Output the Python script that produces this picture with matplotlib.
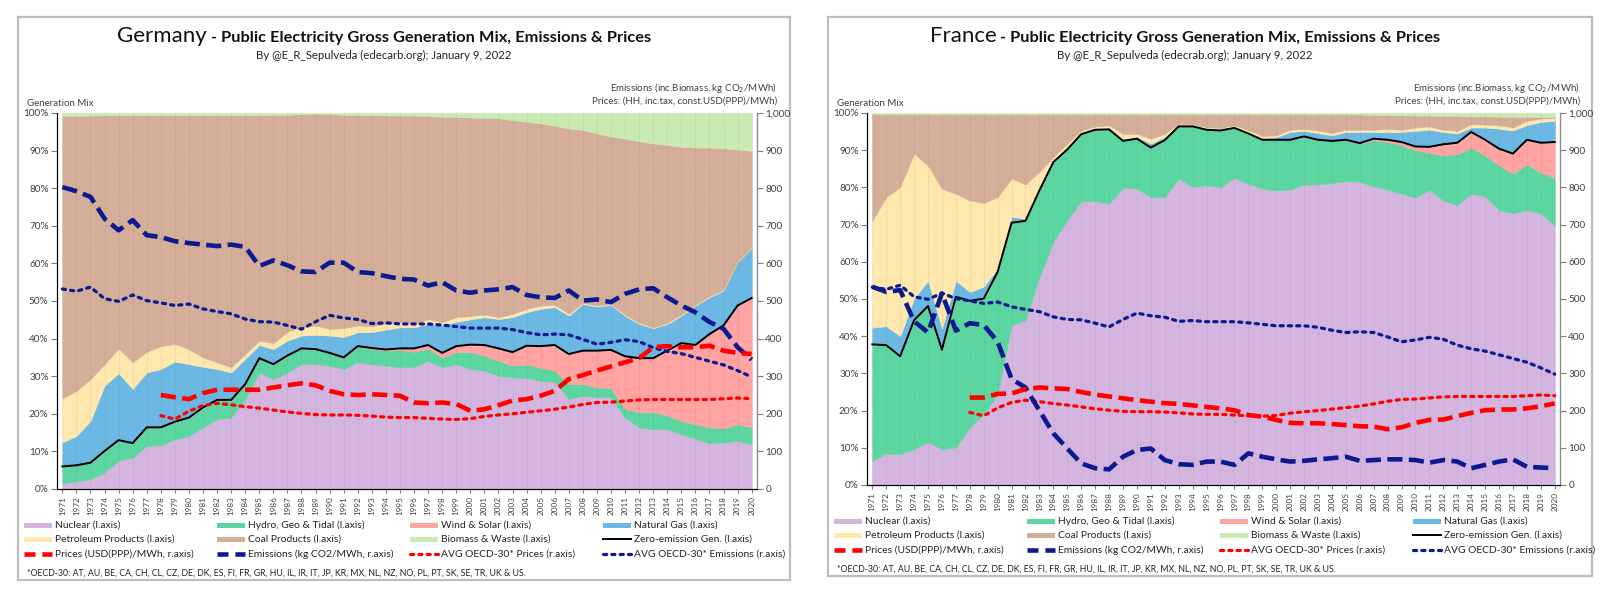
import numpy as np
import matplotlib.pyplot as plt
from matplotlib.patches import Rectangle
from matplotlib.lines import Line2D

plt.rcParams['font.family'] = ['Lato', 'DejaVu Sans']

W, H = 1600, 605

years = list(range(1971, 2021))
price_years = list(range(1978, 2021))

# ---- Germany: generation mix, % of gross generation
de_nuclear = [1.5, 2.1, 2.6, 4.4, 7.5, 8.4, 11.5, 11.6, 13.2, 14.1, 16.4, 18.6, 19.0, 23.9, 31.0, 29.2, 31.0, 33.2, 33.2, 32.8,
              31.9, 33.7, 33.2, 32.8, 32.4, 32.4, 34.1, 32.4, 33.2, 31.9, 31.5, 30.1, 29.7, 29.5, 28.8, 28.5, 23.9, 24.8, 24.4, 24.4,
              19.0, 16.4, 15.9, 15.9, 14.6, 13.4, 12.2, 12.4, 12.8, 11.9]
de_hydro = [4.5, 4.2, 4.4, 5.7, 5.5, 3.8, 4.9, 4.8, 4.7, 4.9, 5.3, 5.1, 4.7, 4.0, 3.8, 4.0, 4.5, 4.2, 4.0, 3.4,
            3.0, 4.2, 4.1, 4.0, 4.6, 4.1, 3.2, 2.6, 3.2, 4.5, 4.0, 4.0, 3.1, 3.6, 3.4, 3.0, 4.0, 3.1, 2.6, 2.4,
            2.2, 4.0, 4.5, 3.7, 3.5, 3.8, 4.2, 3.7, 4.4, 4.5]
de_wind_solar = [0.0] * 19 + [0.0, 0.1, 0.1, 0.2, 0.3, 0.4,
                              0.9, 1.0, 1.2, 1.6, 2.0, 2.8, 3.3, 3.6, 5.0, 5.8, 6.8, 8.0, 8.9, 9.8, 10.2,
                              14.1, 14.4, 14.4, 17.2, 20.7, 21.1, 24.8, 27.4, 31.6, 34.4]
de_gas = [6.4, 7.8, 11.1, 17.4, 17.8, 14.4, 14.6, 15.5, 16.0, 14.2, 10.8, 8.2, 7.3, 6.7, 3.5, 4.0, 4.0, 3.4, 3.8, 4.6,
          5.4, 3.7, 4.2, 5.3, 5.6, 5.6, 5.6, 7.3, 6.5, 6.7, 7.4, 7.8, 9.3, 8.9, 9.9, 10.1, 10.2, 12.4, 11.7, 12.0,
          10.8, 9.1, 8.0, 7.1, 7.3, 10.5, 9.8, 9.3, 11.6, 13.3]
de_oil = [11.7, 12.0, 11.1, 5.7, 6.6, 7.1, 5.5, 6.1, 4.7, 4.0, 2.5, 1.8, 1.4, 1.3, 1.2, 1.6, 2.4, 2.2, 2.5, 1.8,
          2.4, 1.8, 1.6, 1.5, 1.4, 0.9, 1.3, 0.9, 1.2, 0.9, 0.7, 0.5, 0.9, 0.9, 0.9, 0.6, 0.5, 0.3, 0.3, 0.2,
          0.3, 0.3, 0.2, 0.3, 0.3, 0.2, 0.3, 0.2, 0.1, 0.1]
de_coal = [75.2, 73.1, 70.1, 66.2, 62.0, 65.7, 62.9, 61.4, 60.8, 62.2, 64.4, 65.7, 67.0, 63.5, 59.9, 60.7, 57.6, 56.7, 56.3, 57.2,
           56.7, 55.9, 56.1, 55.5, 54.9, 55.4, 54.0, 54.6, 53.3, 52.8, 52.3, 52.9, 51.5, 49.8, 48.4, 47.6, 49.3, 46.0, 45.8, 44.5,
           46.8, 48.3, 48.9, 47.3, 44.6, 41.8, 39.5, 37.6, 29.8, 25.7]
de_biomass = [0.7, 0.8, 0.7, 0.6, 0.6, 0.6, 0.6, 0.6, 0.6, 0.6, 0.6, 0.6, 0.6, 0.6, 0.6, 0.5, 0.5, 0.3, 0.2, 0.2,
              0.5, 0.6, 0.6, 0.6, 0.7, 0.7, 0.8, 1.0, 1.0, 1.2, 1.3, 1.4, 1.9, 2.3, 2.8, 3.4, 4.1, 4.5, 5.4, 6.3,
              6.8, 7.5, 8.1, 8.5, 9.0, 9.2, 9.2, 9.4, 9.7, 10.1]
de_zero = [6.0, 6.3, 7.0, 10.1, 13.0, 12.2, 16.4, 16.4, 17.9, 19.0, 21.7, 23.7, 23.7, 27.9, 34.8, 33.2, 35.5, 37.4, 37.2, 36.2,
           35.0, 38.0, 37.5, 37.1, 37.4, 37.4, 38.3, 36.2, 38.0, 38.4, 38.3, 37.4, 36.4, 38.1, 38.0, 38.3, 35.9, 36.8, 36.8, 37.0,
           35.3, 34.8, 34.8, 36.8, 38.8, 38.3, 41.2, 43.5, 48.8, 50.8]
de_emissions = [803, 792, 777, 719, 688, 715, 675, 670, 659, 654, 650, 646, 650, 644, 593, 608, 595, 579, 577, 602,
                602, 577, 574, 566, 559, 557, 541, 550, 528, 522, 528, 531, 537, 516, 510, 508, 528, 501, 504, 497,
                519, 531, 534, 510, 488, 470, 444, 426, 377, 344]
de_prices = [250, 244, 239, 255, 264, 264, 264, 264, 270, 276, 281, 276, 261, 252, 250, 252, 250, 248, 230, 228,
             230, 226, 208, 212, 223, 235, 239, 248, 261, 292, 303, 315, 326, 337, 348, 377, 380, 377, 377, 381,
             368, 362, 359]

# ---- France
fr_nuclear = [6.5, 8.5, 8.3, 9.6, 11.6, 9.6, 10.1, 15.5, 19.1, 24.4, 43.0, 44.3, 56.0, 65.4, 71.2, 76.4, 76.4, 75.6, 79.9, 79.7,
              77.4, 77.4, 82.4, 80.1, 80.6, 80.0, 82.6, 81.0, 79.7, 79.2, 79.4, 80.8, 80.8, 81.2, 81.7, 81.5, 80.3, 79.4, 78.3, 77.3,
              79.4, 76.5, 75.2, 78.3, 77.6, 73.9, 73.1, 73.9, 73.0, 69.8]
fr_hydro = [31.3, 29.1, 26.3, 34.7, 36.5, 26.8, 40.5, 34.0, 31.0, 32.9, 27.5, 26.7, 23.2, 21.4, 19.0, 17.9, 19.1, 20.0, 12.6, 13.4,
            13.3, 15.3, 14.0, 16.3, 14.9, 15.3, 13.4, 13.5, 13.1, 13.6, 13.4, 12.9, 12.0, 11.3, 11.0, 10.2, 12.4, 12.8, 13.1, 12.7,
            9.9, 12.1, 13.7, 12.4, 11.0, 12.0, 10.6, 12.3, 11.0, 12.8]
fr_wind_solar = [0.0] * 34 + [0.1, 0.2, 0.4, 0.6, 0.8, 1.0, 1.6, 3.0, 3.1, 4.2, 4.2, 4.5, 5.4, 6.6, 8.0, 9.6]
fr_gas = [4.5, 5.1, 5.4, 5.8, 6.8, 5.7, 4.3, 2.4, 3.2, 0.9, 1.6, 0.6, 0.5, 0.3, 0.3, 0.3, 0.3, 0.4, 0.6, 0.5,
          1.1, 0.9, 0.3, 0.3, 0.3, 0.2, 0.2, 0.3, 0.5, 0.7, 2.1, 1.5, 1.8, 1.5, 2.1, 3.0, 1.8, 2.1, 2.7, 4.2,
          4.6, 3.3, 2.5, 1.2, 3.3, 5.4, 6.2, 3.9, 5.6, 5.7]
fr_oil = [28.7, 34.7, 40.1, 39.0, 31.0, 37.6, 23.4, 24.6, 22.5, 19.2, 10.3, 9.2, 4.5, 1.1, 1.3, 0.7, 0.6, 0.7, 1.3, 0.8,
          1.3, 0.8, 0.4, 0.2, 0.4, 0.5, 0.5, 0.6, 0.5, 0.5, 0.6, 0.6, 0.7, 0.6, 0.6, 0.6, 0.6, 0.9, 0.6, 0.9,
          0.9, 0.6, 0.7, 0.9, 0.8, 0.9, 0.8, 1.2, 0.9, 0.8]
fr_coal = [28.7, 22.3, 19.6, 10.6, 13.8, 20.0, 21.4, 23.2, 23.9, 22.3, 17.3, 18.9, 15.5, 11.5, 7.9, 4.4, 3.3, 3.0, 5.3, 5.3,
           6.6, 5.3, 2.6, 2.8, 3.5, 3.7, 3.0, 4.3, 5.9, 5.7, 4.2, 3.9, 4.4, 5.1, 4.2, 4.1, 4.0, 3.6, 3.9, 3.2,
           2.9, 3.7, 4.0, 2.1, 2.2, 2.3, 2.9, 1.1, 0.4, 0.2]
fr_biomass = [0.3] * 35 + [0.4, 0.5, 0.6, 0.6, 0.7, 0.7, 0.8, 0.8, 0.9, 0.9, 1.0, 1.0, 1.0, 1.1, 1.1]
fr_zero = [37.8, 37.6, 34.6, 44.3, 48.1, 36.4, 50.6, 49.5, 50.1, 57.3, 70.5, 71.0, 79.2, 86.8, 90.2, 94.3, 95.5, 95.6, 92.5, 93.1,
           90.7, 92.7, 96.4, 96.4, 95.5, 95.3, 96.0, 94.5, 92.8, 92.8, 92.8, 93.7, 92.8, 92.5, 92.8, 91.9, 93.1, 92.8, 92.2, 91.0,
           90.9, 91.6, 92.0, 94.9, 92.8, 90.4, 89.1, 92.8, 92.0, 92.2]
fr_emissions = [533, 519, 524, 440, 410, 515, 415, 435, 430, 385, 285, 262, 200, 139, 98, 58, 45, 42, 76, 94,
                98, 67, 56, 54, 63, 63, 54, 85, 76, 69, 63, 65, 69, 72, 76, 65, 67, 69, 69, 67,
                60, 67, 63, 45, 54, 63, 69, 49, 47, 45]
fr_prices = [235, 235, 245, 246, 258, 262, 260, 258, 250, 243, 238, 233, 228, 224, 220, 218, 214, 210, 206, 201,
             188, 184, 175, 167, 166, 166, 164, 161, 158, 157, 150, 155, 167, 175, 176, 185, 194, 201, 203, 203,
             206, 212, 219]

# ---- OECD-30 averages (same on both charts)
oecd_emissions = [532, 526, 537, 506, 499, 516, 501, 495, 488, 492, 479, 472, 466, 452, 445, 444, 435, 425, 445, 462,
                  455, 451, 440, 442, 439, 439, 439, 436, 432, 428, 428, 428, 424, 416, 410, 412, 410, 398, 385, 390,
                  397, 392, 376, 366, 360, 350, 340, 330, 315, 298]
oecd_prices = [195, 186, 207, 222, 228, 224, 219, 215, 210, 205, 201, 198, 197, 197, 196, 194, 191, 190, 190, 188,
               186, 185, 187, 193, 197, 200, 204, 208, 212, 218, 225, 230, 231, 234, 237, 238, 238, 238, 238, 238,
               240, 242, 240]

mix_labels = ["Nuclear (l.axis)", "Hydro, Geo & Tidal (l.axis)", "Wind & Solar (l.axis)", "Natural Gas (l.axis)",
              "Petroleum Products (l.axis)", "Coal Products (l.axis)", "Biomass & Waste (l.axis)"]
mix_colors = ["#d3b5e0", "#5cd6a0", "#ffa3a3", "#6cb8e4", "#ffe8ad", "#d4ae98", "#c9eab3"]

RED = "#ff0000"
NAVY = "#0b1a8f"
DASH = dict(lw=3.3, linestyle=(0, (3.3, 1.4)), solid_capstyle='butt')
DOT = dict(lw=2.3, linestyle=(0, (1, 1.6)), dash_capstyle='round')
LINES = [
    ("Zero-emission Gen. (l.axis)", dict(color="black", lw=1.4)),
    ("Prices (USD(PPP)/MWh, r.axis)", dict(color=RED, **DASH)),
    ("Emissions (kg CO2/MWh, r.axis)", dict(color=NAVY, **DASH)),
    ("AVG OECD-30* Prices (r.axis)", dict(color=RED, **DOT)),
    ("AVG OECD-30* Emissions (r.axis)", dict(color=NAVY, **DOT)),
]
# shorter dashes so that two fit in a legend key
LEGEND_DASH = (0, (2.4, 1.5))

fig = plt.figure(figsize=(W / 100, H / 100), dpi=100)
renderer = fig.canvas.get_renderer()


def fx(px):
    return px / W


def fy(py):
    return 1 - py / H


def title_pair(cx, base, big, rest):
    t1 = fig.text(0, fy(base), big, fontsize=16, ha='left', va='baseline', color='#111111')
    t2 = fig.text(0, fy(base), rest, fontsize=11.8, fontweight='bold', ha='left', va='baseline', color='#111111')
    w1 = t1.get_window_extent(renderer).width
    w2 = t2.get_window_extent(renderer).width
    x0 = cx - (w1 + w2) / 2
    t1.set_x(fx(x0))
    t2.set_x(fx(x0 + w1))


def panel(country, note, frame, box, title_cx, mix, zero, emis, prices):
    fl, ft, fr, fb = frame
    fig.add_artist(Rectangle((fx(fl), fy(fb)), fx(fr - fl), (fb - ft) / H, transform=fig.transFigure,
                             facecolor='white', edgecolor='#bdbdbd', lw=1.6, zorder=0))
    left, right, top, bottom = box
    ax = fig.add_axes([fx(left), fy(bottom), fx(right - left), (bottom - top) / H])
    polys = ax.stackplot(years, *mix, colors=mix_colors)
    for p, c in zip(polys, mix_colors):
        p.set_edgecolor(c)
        p.set_linewidth(0.4)
    ax.plot(years, zero, zorder=4, **LINES[0][1])
    ax.set_xlim(years[0] - 0.38, years[-1] + 0.38)
    ax.set_ylim(0, 100)
    ax.set_yticks(range(0, 101, 10))
    ax.set_yticklabels([f"{v}%" for v in range(0, 101, 10)])
    ax.set_xticks(years)
    ax.set_xticklabels([str(y) for y in years], rotation=90, fontsize=5.9)
    ax.set_axisbelow(False)
    ax.grid(axis='x', color='#6f6f6f', alpha=0.25, lw=0.6, linestyle=(0, (1.5, 1.5)))
    ax.tick_params(axis='y', labelsize=7.2, length=4, color='#7f7f7f', labelcolor='#404040', pad=2)
    ax.tick_params(axis='x', length=3, color='#7f7f7f', labelcolor='#404040', pad=2)
    ax.spines['top'].set_visible(False)
    for s in ('left', 'right', 'bottom'):
        ax.spines[s].set_color('#8a8a8a')
        ax.spines[s].set_linewidth(0.9)

    ax2 = ax.twinx()
    ax2.set_ylim(0, 1000)
    ax2.set_yticks(range(0, 1001, 100))
    ax2.set_yticklabels([f"{v:,}" for v in range(0, 1001, 100)])
    ax2.tick_params(axis='y', labelsize=7.2, length=4, color='#7f7f7f', labelcolor='#404040', pad=2)
    ax2.spines['top'].set_visible(False)
    ax2.spines['right'].set_color('#8a8a8a')
    ax2.plot(years, oecd_emissions, **LINES[4][1])
    ax2.plot(price_years, oecd_prices, **LINES[3][1])
    ax2.plot(years, emis, **LINES[2][1])
    ax2.plot(price_years, prices, **LINES[1][1])

    title_pair(title_cx, 42, country, " - Public Electricity Gross Generation Mix, Emissions & Prices")
    fig.text(fx(title_cx), fy(59), note, fontsize=8.2, ha='center', va='baseline', color='#222222')
    fig.text(fx(left - 30), fy(106), "Generation Mix", fontsize=7, ha='left', va='baseline', color='#404040')
    fig.text(fx(right + 20), fy(91), "Emissions (inc.Biomass, kg CO$_2$/MWh)", fontsize=7,
             ha='right', va='baseline', color='#404040')
    fig.text(fx(right + 20), fy(104), "Prices: (HH, inc.tax, const.USD(PPP)/MWh)", fontsize=7,
             ha='right', va='baseline', color='#404040')

    # legend, 4 columns x 3 rows
    entries = [(lab, 'patch', col) for lab, col in zip(mix_labels, mix_colors)] + [(lab, 'line', st) for lab, st in LINES]
    rows = [bottom + 36, bottom + 50, bottom + 65]
    for i, (lab, kind, st) in enumerate(entries):
        px0 = left - 33 + 193 * (i % 4)
        py = rows[i // 4]
        if kind == 'patch':
            fig.add_artist(Rectangle((fx(px0), fy(py + 2.5)), fx(28), 5 / H, transform=fig.transFigure,
                                     facecolor=st, edgecolor='none'))
        else:
            style = dict(st)
            if style.get('linestyle') == DASH['linestyle']:
                style['linestyle'] = LEGEND_DASH
            fig.add_artist(Line2D([fx(px0), fx(px0 + 28)], [fy(py), fy(py)], transform=fig.transFigure, **style))
        fig.text(fx(px0 + 31), fy(py), lab, fontsize=7.4, ha='left', va='center', color='#222222')
    fig.text(fx(left - 30), fy(bottom + 84),
             "*OECD-30: AT, AU, BE, CA, CH, CL, CZ, DE, DK, ES, FI, FR, GR, HU, IL, IR, IT, JP, KR, MX, NL, NZ, "
             "NO, PL, PT, SK, SE, TR, UK & US.", fontsize=6.3, ha='left', va='center', color='#222222')


panel("Germany", "By @E_R_Sepulveda (edecarb.org); January 9, 2022",
      (18, 17, 790, 580), (57, 757, 113, 489), 384,
      [de_nuclear, de_hydro, de_wind_solar, de_gas, de_oil, de_coal, de_biomass],
      de_zero, de_emissions, de_prices)
panel("France", "By @E_R_Sepulveda (edecrab.org); January 9, 2022",
      (828, 17, 1592, 576), (867, 1560, 113, 485), 1185,
      [fr_nuclear, fr_hydro, fr_wind_solar, fr_gas, fr_oil, fr_coal, fr_biomass],
      fr_zero, fr_emissions, fr_prices)

fig.savefig("out.png", dpi=100, facecolor='white')
